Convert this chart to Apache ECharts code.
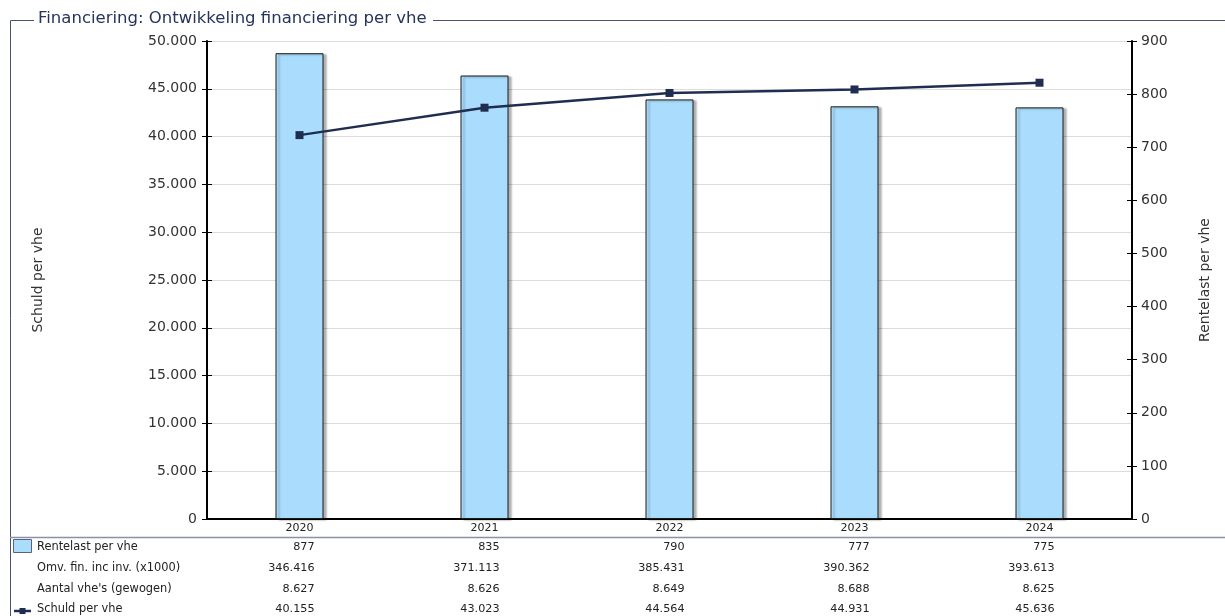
<!DOCTYPE html>
<html><head><meta charset="utf-8">
<script src="https://cdn.jsdelivr.net/npm/echarts@6/dist/echarts.min.js"></script>
<style>html,body{margin:0;padding:0;background:#fff}#c{width:1225px;height:616px}</style>
</head><body><div id="c"></div>
<script>
const categories = ['2020','2021','2022','2023','2024'];
const rentelast = [877, 835, 790, 777, 775];
const omvFin = [346416, 371113, 385431, 390362, 393613];
const aantalVhe = [8627, 8626, 8649, 8688, 8625];
const schuld = [40155, 43023, 44564, 44931, 45636];
const rowLabels = ['Rentelast per vhe', 'Omv. fin. inc inv. (x1000)', "Aantal vhe's (gewogen)", 'Schuld per vhe'];
const titleText = 'Financiering: Ontwikkeling financiering per vhe';

const FONT = 'DejaVu Sans';
const fmt = v => String(v).replace(/\B(?=(\d{3})+(?!\d))/g, '.');
const chart = echarts.init(document.getElementById('c'));
const frameColor = '#4a5270';
const tickBase = {show:true, length:5, lineStyle:{color:'#000', width:1}};
chart.setOption({
  animation:false,
  textStyle:{fontFamily:FONT},
  grid:{left:207, right:93, top:41, bottom:97, containLabel:false},
  xAxis:{type:'category', data:categories,
    axisLine:{lineStyle:{color:'#000', width:2}}, axisTick:{show:false},
    axisLabel:{color:'#222', fontSize:11, margin:4, fontFamily:FONT}},
  yAxis:[
    {type:'value', min:0, max:50000, interval:5000, position:'left',
     name:'Schuld per vhe', nameLocation:'middle', nameRotate:90, nameGap:162,
     nameTextStyle:{color:'#333', fontSize:14, fontFamily:FONT},
     axisLine:{show:true, lineStyle:{color:'#000', width:2}},
     axisTick:Object.assign({}, tickBase),
     axisLabel:{color:'#333', fontSize:14, margin:10, fontFamily:FONT, formatter:fmt},
     splitLine:{show:true, lineStyle:{color:'#dcdcdc', width:1}}},
    {type:'value', min:0, max:900, interval:100, position:'right',
     name:'Rentelast per vhe', nameLocation:'middle', nameRotate:90, nameGap:66,
     nameTextStyle:{color:'#333', fontSize:14, fontFamily:FONT},
     axisLine:{show:true, lineStyle:{color:'#000', width:2}},
     axisTick:Object.assign({}, tickBase),
     axisLabel:{color:'#333', fontSize:14, margin:9, fontFamily:FONT},
     splitLine:{show:false}},
    {type:'value', min:0, max:50000, interval:5000, position:'left',
     axisLine:{show:false}, axisTick:Object.assign({inside:true}, tickBase),
     axisLabel:{show:false}, splitLine:{show:false}},
    {type:'value', min:0, max:900, interval:100, position:'right',
     axisLine:{show:false}, axisTick:Object.assign({inside:true}, tickBase),
     axisLabel:{show:false}, splitLine:{show:false}}
  ],
  series:[
    {type:'bar', name:'Rentelast per vhe', yAxisIndex:1, data:rentelast, barWidth:48,
     itemStyle:{color:'#aaddfd', borderColor:'#1a1a1a', borderWidth:1,
       shadowColor:'rgba(0,0,0,0.3)', shadowOffsetX:3, shadowOffsetY:1, shadowBlur:2}},
    {type:'line', name:'Schuld per vhe', yAxisIndex:0, data:schuld,
     symbol:'rect', symbolSize:8, z:5,
     lineStyle:{color:'#1f2d50', width:2.5}, itemStyle:{color:'#1f2d50'}}
  ]
});

// frame, title and data table
const g = [];
g.push({type:'line', shape:{x1:10.5, y1:20.5, x2:34, y2:20.5}, style:{stroke:frameColor, lineWidth:1}});
g.push({type:'text', left:38, top:10, style:{text:titleText, fill:'#25345a', font:'16.5px "DejaVu Sans"'}});
g.push({type:'line', shape:{x1:433, y1:20.5, x2:1225, y2:20.5}, style:{stroke:frameColor, lineWidth:1}});
g.push({type:'line', shape:{x1:10.5, y1:20.5, x2:10.5, y2:616}, style:{stroke:frameColor, lineWidth:1}});
g.push({type:'line', shape:{x1:10, y1:537.5, x2:1225, y2:537.5}, style:{stroke:'#8a90a8', lineWidth:1.5}});
const rowY = [547, 568, 589, 609];
const rows = [rentelast.map(fmt), omvFin.map(fmt), aantalVhe.map(fmt), schuld.map(fmt)];
rowLabels.forEach((lab, r) => {
  g.push({type:'text', x:37, y:rowY[r], style:{text:lab, fill:'#222', font:'11.4px "DejaVu Sans"', textVerticalAlign:'middle'}});
  rows[r].forEach((v, i) => {
    const px = chart.convertToPixel({xAxisIndex:0}, categories[i]);
    g.push({type:'text', x:px + 15, y:rowY[r], style:{text:v, fill:'#222', font:'11.2px "DejaVu Sans"', textAlign:'right', textVerticalAlign:'middle'}});
  });
});
g.push({type:'rect', shape:{x:13.5, y:539.5, width:18, height:13}, style:{fill:'#aaddfd', stroke:'#5a6478', lineWidth:1}});
g.push({type:'line', shape:{x1:14, y1:611, x2:31, y2:611}, style:{stroke:'#1f2d50', lineWidth:2.5}});
g.push({type:'rect', shape:{x:19.5, y:608, width:6, height:6}, style:{fill:'#1f2d50'}});
chart.setOption({graphic:g});
</script></body></html>
